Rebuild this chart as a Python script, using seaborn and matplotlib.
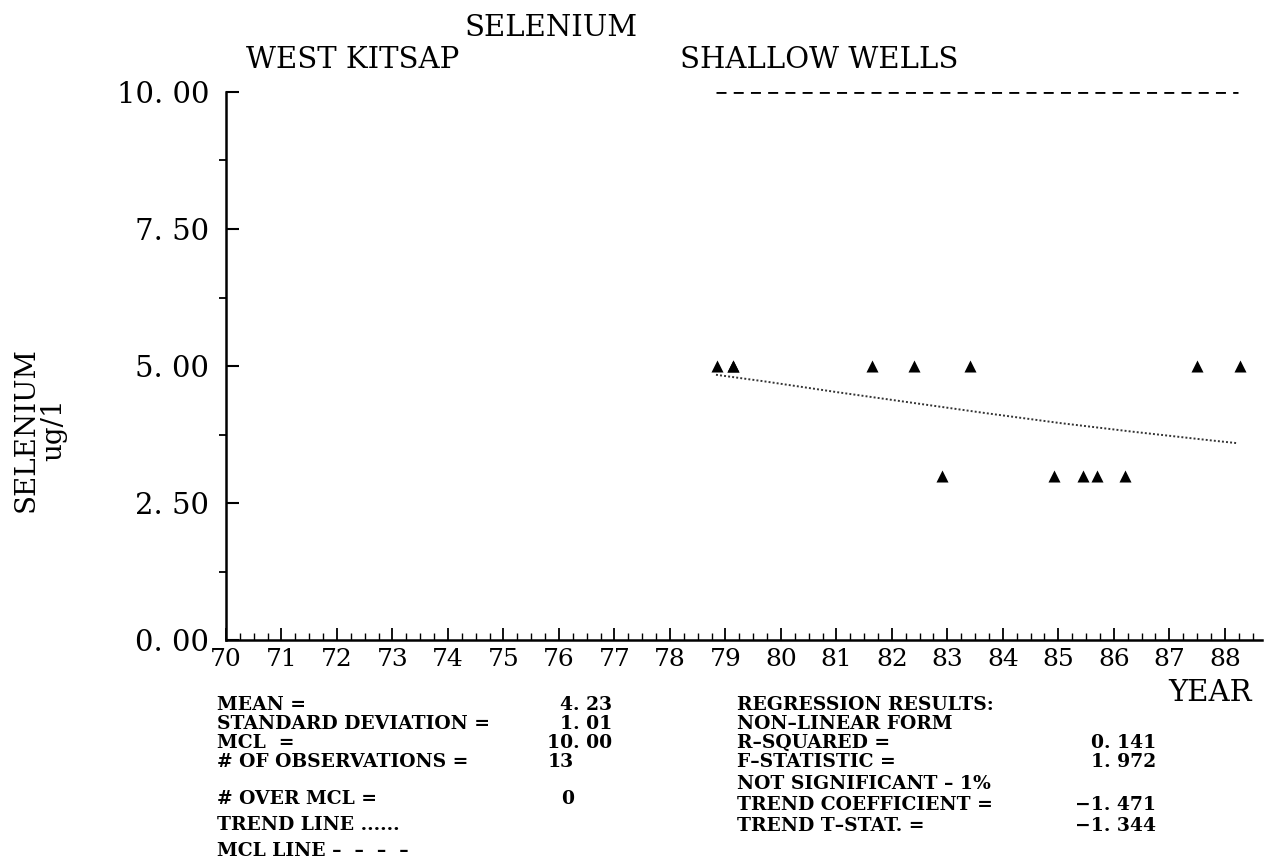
# Selenium - West Kitsap shallow wells trend chart
import numpy as np
import pandas as pd
import matplotlib
matplotlib.use("Agg")
import matplotlib.pyplot as plt
import seaborn as sns

# Observations (year, ug/l)
obs_year = [78.84, 79.13, 79.13, 81.64, 82.40, 83.41, 87.50, 88.28,
            82.90, 84.92, 85.45, 85.70, 86.20]
obs_value = [5.0, 5.0, 5.0, 5.0, 5.0, 5.0, 5.0, 5.0,
             3.0, 3.0, 3.0, 3.0, 3.0]

# Non-linear trend line
trend_year = [78.83, 79.70, 81.03, 82.36, 83.69, 85.02, 86.35, 87.68, 88.24]
trend_value = [4.84, 4.72, 4.52, 4.33, 4.14, 3.96, 3.80, 3.65, 3.59]

# MCL line
mcl_year = [78.83, 88.24]
mcl_value = [10.0, 10.0]

x_ticks = list(range(70, 89))
x_labels = [str(v) for v in x_ticks]
y_ticks = [0.0, 2.5, 5.0, 7.5, 10.0]
y_labels = ["0. 00", "2. 50", "5. 00", "7. 50", "10. 00"]

left_rows = ["MEAN =", "STANDARD DEVIATION =", "MCL  =", "# OF OBSERVATIONS =",
             "# OVER MCL =", "TREND LINE ......", "MCL LINE \u2013  \u2013  \u2013  \u2013"]
left_vals = ["4. 23", "1. 01", "10. 00", "13", "0", "", ""]
right_rows = ["REGRESSION RESULTS:", "NON\u2013LINEAR FORM", "R\u2013SQUARED =",
              "F\u2013STATISTIC =", "NOT SIGNIFICANT \u2013 1%",
              "TREND COEFFICIENT =", "TREND T\u2013STAT. ="]
right_vals = ["", "", "0. 141", "1. 972", "", "\u22121. 471", "\u22121. 344"]

sns.set_style("ticks")
plt.rcParams["font.family"] = ["DejaVu Serif", "DejaVu Sans"]
plt.rcParams["text.color"] = "black"
plt.rcParams["axes.edgecolor"] = "black"
plt.rcParams["xtick.color"] = "black"
plt.rcParams["ytick.color"] = "black"

fig = plt.figure(figsize=(12.67, 8.61), dpi=100)
ax = fig.add_axes([226 / 1267, 1 - 640 / 861, (1262 - 226) / 1267, (640 - 92) / 861])

obs = pd.DataFrame({"year": obs_year, "value": obs_value})
trend = pd.DataFrame({"year": trend_year, "value": trend_value})
mcl = pd.DataFrame({"year": mcl_year, "value": mcl_value})

sns.lineplot(data=mcl, x="year", y="value", ax=ax, color="black",
             linewidth=2.0, linestyle=(0, (3.6, 2.6)))
sns.lineplot(data=trend, x="year", y="value", ax=ax, color="#333333",
             linewidth=1.4, linestyle=(0, (1, 1.1)))
sns.scatterplot(data=obs, x="year", y="value", ax=ax, marker="^", s=75,
                color="black", linewidth=0)

ax.set_xlim(70, 88.67)
ax.set_ylim(0, 10)
ax.set_xlabel("")
ax.set_ylabel("")
sns.despine(ax=ax)
for side in ["left", "bottom"]:
    ax.spines[side].set_linewidth(1.8)

ax.set_xticks(x_ticks)
ax.set_xticklabels(x_labels, fontsize=18)
ax.set_xticks(np.arange(70, 88.6, 0.25), minor=True)
ax.set_yticks(y_ticks)
ax.set_yticklabels(y_labels, fontsize=21)
ax.set_yticks([1.25, 3.75, 6.25, 8.75], minor=True)
ax.tick_params(axis="x", which="major", direction="in", length=9, width=1.3, pad=6)
ax.tick_params(axis="x", which="minor", direction="in", length=5, width=1.0)
ax.tick_params(axis="y", which="major", direction="in", length=9, width=1.5, pad=12)
ax.tick_params(axis="y", which="minor", direction="out", length=5, width=1.3)

# Titles
fig.text(551 / 1267, 1 - 28 / 861, "SELENIUM", fontsize=21, ha="center", va="center")
fig.text(246 / 1267, 1 - 60 / 861, "WEST KITSAP", fontsize=21, ha="left", va="center")
fig.text(680 / 1267, 1 - 60 / 861, "SHALLOW WELLS", fontsize=21, ha="left", va="center")
fig.text(40 / 1267, 1 - 430 / 861, "SELENIUM\nug/1", fontsize=20, rotation=90,
         ha="center", va="center", multialignment="center", linespacing=1.0)
fig.text(1252 / 1267, 1 - 693 / 861, "YEAR", fontsize=21, ha="right", va="center")

# Statistics blocks
left_y = [705, 724, 743, 762, 799, 825, 851]
right_y = [705, 724, 743, 762, 784, 805, 826]
stat_font = dict(fontsize=13.5, fontweight="bold", va="center")
for label, val, y in zip(left_rows, left_vals, left_y):
    fig.text(217 / 1267, 1 - y / 861, label, ha="left", **stat_font)
    if val in ("13", "0"):
        fig.text(574 / 1267, 1 - y / 861, val, ha="right", **stat_font)
    elif val:
        fig.text(612 / 1267, 1 - y / 861, val, ha="right", **stat_font)
for label, val, y in zip(right_rows, right_vals, right_y):
    fig.text(737 / 1267, 1 - y / 861, label, ha="left", **stat_font)
    if val:
        fig.text(1156 / 1267, 1 - y / 861, val, ha="right", **stat_font)

plt.savefig("out.png", dpi=100)
